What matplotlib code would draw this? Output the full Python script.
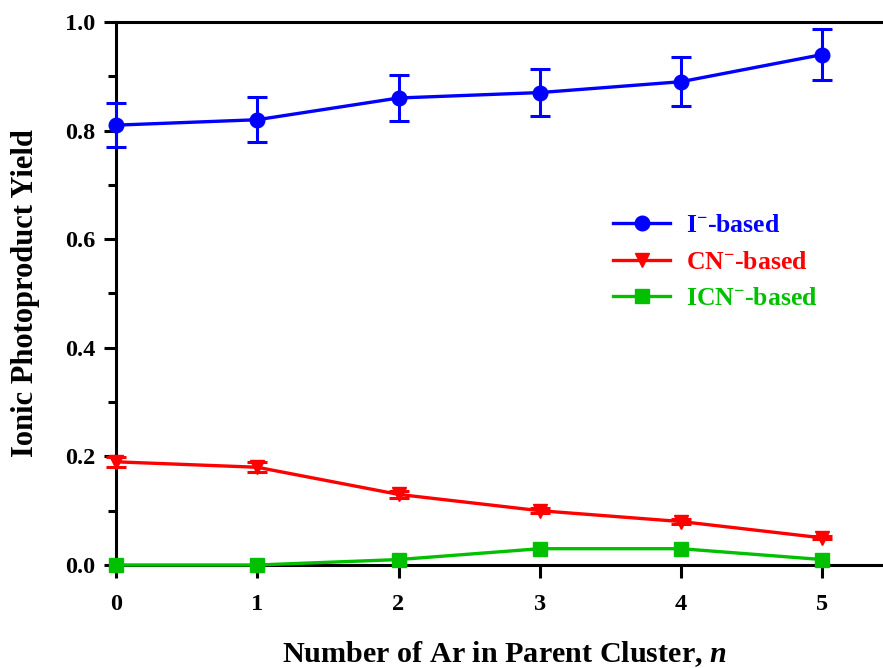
import matplotlib
matplotlib.use("Agg")
import matplotlib.pyplot as plt
from matplotlib.lines import Line2D

plt.rcParams['font.family'] = ['Liberation Serif', 'DejaVu Serif']
plt.rcParams['font.weight'] = 'bold'
plt.rcParams['mathtext.fontset'] = 'custom'
plt.rcParams['mathtext.rm'] = 'Liberation Serif:bold'
plt.rcParams['mathtext.bf'] = 'Liberation Serif:bold'
plt.rcParams['mathtext.it'] = 'Liberation Serif:bold:italic'

n_ar = [0, 1, 2, 3, 4, 5]
i_based = [0.81, 0.82, 0.86, 0.87, 0.89, 0.94]
i_err = [0.040, 0.041, 0.043, 0.044, 0.045, 0.047]
cn_based = [0.19, 0.18, 0.13, 0.10, 0.08, 0.05]
cn_err = [0.0095, 0.009, 0.0065, 0.005, 0.004, 0.0025]
icn_based = [0.0, 0.0, 0.01, 0.03, 0.03, 0.01]

blue = '#0000ff'
red = '#ff0000'
green = '#00c000'

fig = plt.figure(figsize=(8.83, 6.68), dpi=100)
ax = fig.add_axes([0.1314, 0.1542, 0.8686, 0.8129])

common = dict(lw=2.4, capsize=7, capthick=2.2, elinewidth=2.2, clip_on=False, zorder=3)
ax.errorbar(n_ar, i_based, yerr=i_err, color=blue, marker='o', ms=10.5, **common)
ax.errorbar(n_ar, cn_based, yerr=cn_err, color=red, marker='v', ms=10.5, **common)
ax.plot(n_ar, icn_based, color=green, marker='s', ms=10, lw=2.4, clip_on=False, zorder=4)

ax.set_xlim(0, 5.43)
ax.set_ylim(0, 1.0)
ax.set_xticks(n_ar)
ax.set_yticks([0.0, 0.2, 0.4, 0.6, 0.8, 1.0])
ax.set_yticks([0.1, 0.3, 0.5, 0.7, 0.9], minor=True)
ax.set_yticklabels(['0.0', '0.2', '0.4', '0.6', '0.8', '1.0'])

for s in ['left', 'bottom', 'top']:
    ax.spines[s].set_linewidth(2.2)
ax.spines['right'].set_visible(False)
ax.tick_params(axis='both', which='major', direction='out', length=9, width=2.2,
               labelsize=17.5, pad=6)
ax.tick_params(axis='y', which='minor', direction='out', length=5.5, width=2.2)
ax.tick_params(axis='x', pad=12)
for lab in ax.get_xticklabels() + ax.get_yticklabels():
    lab.set_fontweight('bold')

ax.set_xlabel('Number of Ar in Parent Cluster, $\\mathit{n}$', fontsize=21.7,
              fontweight='bold')
ax.xaxis.set_label_coords(0.5065, -0.137)
ax.set_ylabel('Ionic Photoproduct Yield', fontsize=22, fontweight='bold', labelpad=18)

handles = [
    Line2D([], [], color=blue, marker='o', ms=10.5, lw=2.4),
    Line2D([], [], color=red, marker='v', ms=10.5, lw=2.4),
    Line2D([], [], color=green, marker='s', ms=10, lw=2.4),
]
labels = ['I$^{-}$-based', 'CN$^{-}$-based', 'ICN$^{-}$-based']
leg = ax.legend(handles, labels, loc='upper left', bbox_to_anchor=(0.635, 0.665),
                frameon=False, fontsize=18.5, handlelength=2.2, labelspacing=0.53,
                handletextpad=0.62, borderaxespad=0)
for t, c in zip(leg.get_texts(), [blue, red, green]):
    t.set_color(c)
    t.set_fontweight('bold')

fig.savefig('out.png', dpi=100)
